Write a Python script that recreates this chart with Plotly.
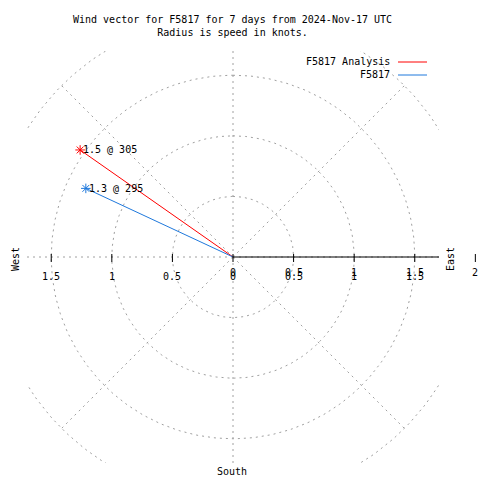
import numpy as np
import plotly.graph_objects as go

# ---- data ----
series_names = ["F5817 Analysis", "F5817"]
speeds_kt = [1.54, 1.34]
directions_deg = [305, 295]
series_colors = ["#ff0000", "#1e78dc"]

xtick_vals = [-1.5, -1.0, -0.5, 0.0, 0.5, 1.0, 1.5]
xtick_text = ["1.5", "1", "0.5", "0", "0.5", "1", "1.5"]
rtick_vals = [0.0, 0.5, 1.0, 1.5, 2.0]
rtick_text = ["0", "0.5", "1", "1.5", "2"]
grid_radii = [0.5, 1.0, 1.5, 2.0]
grid_angles = [0, 45, 90, 135, 180, 225, 270, 315]

title_text = ("Wind vector for F5817 for 7 days from 2024-Nov-17 UTC<br>"
              "Radius is speed in knots.")

FONT = "DejaVu Sans Mono"
GRID = "#a0a0a0"
DASH = "2px,4px"
RNG = 1.7

# layout geometry (pixels)
W = H = 480
ML, MR, MT, MB = 27, 41, 51, 17
PW = W - ML - MR
PH = H - MT - MB


def pxx(px):
    return (px - ML) / PW


def pxy(py):
    return (H - MB - py) / PH


def dx2paper(v):
    return (v + RNG) / (2 * RNG)


def dy2paper(v):
    return (v + RNG) / (2 * RNG)


def text_ann(x, y, text, xanchor="center", **kw):
    d = dict(x=x, y=y, xref="paper", yref="paper", text=text, showarrow=False,
             xanchor=xanchor, yanchor="middle",
             font=dict(family=FONT, size=10, color="black"))
    d.update(kw)
    return d


fig = go.Figure()

# polar grid circles
th = np.linspace(0, 2 * np.pi, 361)
for r in grid_radii:
    fig.add_trace(go.Scatter(x=r * np.sin(th), y=r * np.cos(th), mode="lines",
                             line=dict(color=GRID, width=1, dash=DASH),
                             hoverinfo="skip", showlegend=False))
# spokes
for a in grid_angles:
    t = np.radians(a)
    fig.add_trace(go.Scatter(x=[0, 2 * np.sin(t)], y=[0, 2 * np.cos(t)], mode="lines",
                             line=dict(color=GRID, width=1, dash=DASH),
                             hoverinfo="skip", showlegend=False))

# solid r axis to the east
fig.add_trace(go.Scatter(x=[0, 2.2], y=[0, 0], mode="lines",
                         line=dict(color="black", width=1),
                         hoverinfo="skip", showlegend=False))

shapes = []
# tick marks (drawn as short vertical shapes so the one at r=2 can sit outside)
tick_x = sorted(set(xtick_vals + rtick_vals))
for v in tick_x:
    shapes.append(dict(type="line", xref="paper", yref="paper",
                       x0=dx2paper(v), x1=dx2paper(v),
                       y0=pxy(254), y1=pxy(262),
                       line=dict(color="black", width=1)))

ann = []
# wind vectors
for name, s, d, c in zip(series_names, speeds_kt, directions_deg, series_colors):
    t = np.radians(d)
    x1, y1 = s * np.sin(t), s * np.cos(t)
    fig.add_trace(go.Scatter(x=[0, x1], y=[0, y1], mode="lines", name=name,
                             line=dict(color=c, width=1), showlegend=False))
    fig.add_trace(go.Scatter(x=[x1], y=[y1], mode="markers",
                             marker=dict(symbol="asterisk-open", size=8, color=c,
                                         line=dict(color=c, width=1)),
                             showlegend=False, cliponaxis=False))
    ann.append(text_ann(dx2paper(x1), dy2paper(y1), "%.1f @ %d" % (s, d),
                        xanchor="left", xshift=1))

# x tic labels
for v, tx in zip(xtick_vals, xtick_text):
    ann.append(text_ann(dx2paper(v), pxy(276), tx))
# r tic labels (overprinted on the east side)
for v, tx in zip(rtick_vals, rtick_text):
    ann.append(text_ann(dx2paper(v), pxy(272), tx))

# compass labels
ann.append(text_ann(pxx(15), pxy(259), "West", textangle=-90))
ann.append(text_ann(pxx(450), pxy(259), "East", textangle=-90))
ann.append(text_ann(pxx(232), pxy(471), "South"))

# title
ann.append(text_ann(pxx(232), pxy(26), title_text, align="center"))

# legend (text right aligned, sample line on the right)
for i, (name, c) in enumerate(zip(series_names, series_colors)):
    py = 62 + 13 * i
    ann.append(text_ann(pxx(392), pxy(py), name, xanchor="right"))
    shapes.append(dict(type="line", xref="paper", yref="paper",
                       x0=pxx(398), x1=pxx(427), y0=pxy(py), y1=pxy(py),
                       line=dict(color=c, width=1)))

fig.update_layout(
    width=W, height=H,
    margin=dict(l=ML, r=MR, t=MT, b=MB),
    paper_bgcolor="white", plot_bgcolor="white",
    showlegend=False,
    annotations=ann, shapes=shapes,
    xaxis=dict(range=[-RNG, RNG], visible=False, fixedrange=True),
    yaxis=dict(range=[-RNG, RNG], visible=False, fixedrange=True),
    font=dict(family=FONT, size=10),
)

fig.write_html("out.html", config={"displayModeBar": False},
               post_script="document.body.style.margin='0';")
